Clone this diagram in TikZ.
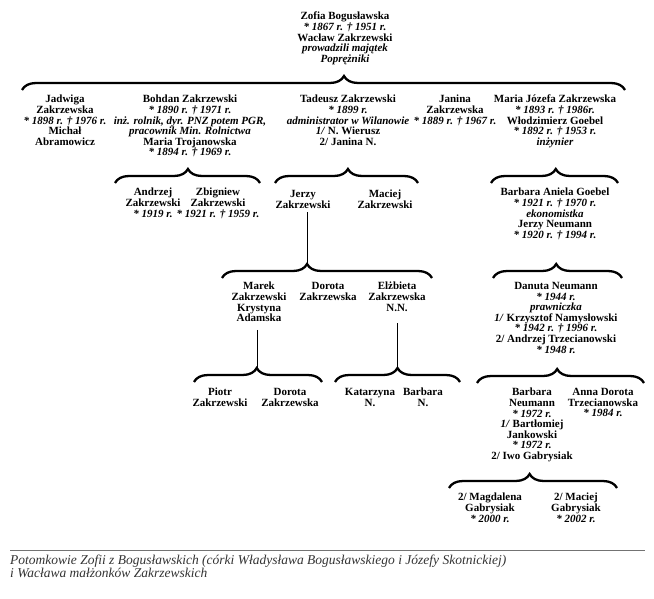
\documentclass[tikz,border=0pt]{standalone}
\usepackage{fontspec}
\setmainfont{Liberation Serif}
\usetikzlibrary{decorations.pathreplacing}

\newcommand{\famfont}{\fontsize{11}{10.6}\selectfont\bfseries}
\newcommand{\capfont}{\fontsize{13.5}{13}\selectfont\itshape}

\begin{document}
\begin{tikzpicture}[x=1pt, y=-1pt,
    person/.style={align=center, inner sep=0pt, anchor=north, font=\famfont, text=black},
    famly/.style={decorate, decoration={brace, amplitude=14pt, aspect=#1}, line width=2.3pt},
    famly/.default=0.5,
    link/.style={line width=0.8pt}]
\useasboundingbox (0,0) rectangle (654,599);

% parents
\node[person](zofia)at(345,12){Zofia Bogusławska\\\textit{* 1867 r. † 1951 r.}\\Wacław Zakrzewski\\\textit{prowadzili majątek}\\\textit{Poprężniki}};

% children
\node[person](jadwiga)at(65,95){Jadwiga\\Zakrzewska\\\textit{* 1898 r. † 1976 r.}\\Michał\\Abramowicz};
\node[person](bohdan)at(190,95){Bohdan Zakrzewski\\\textit{* 1890 r. † 1971 r.}\\\textit{inż. rolnik, dyr. PNZ potem PGR,}\\\textit{pracownik Min. Rolnictwa}\\Maria Trojanowska\\\textit{* 1894 r. † 1969 r.}};
\node[person](tadeusz)at(348,95){Tadeusz Zakrzewski\\\textit{* 1899 r.}\\\textit{administrator w Wilanowie}\\\textit{1/} N. Wierusz\\2/ Janina N.};
\node[person](janina)at(455,95){Janina\\Zakrzewska\\\textit{* 1889 r. † 1967 r.}};
\node[person](mariaj)at(555,95){Maria Józefa Zakrzewska\\\textit{* 1893 r. † 1986r.}\\Włodzimierz Goebel\\\textit{* 1892 r. † 1953 r.}\\\textit{inżynier}};

% grandchildren
\node[person](andrzej)at(153,188){Andrzej\\Zakrzewski\\\textit{* 1919 r.}};
\node[person](zbigniew)at(218,188){Zbigniew\\Zakrzewski\\\textit{* 1921 r. † 1959 r.}};
\node[person](jerzy)at(303,190){Jerzy\\Zakrzewski};
\node[person](maciej)at(385,190){Maciej\\Zakrzewski};
\node[person](barbaraa)at(555,188){Barbara Aniela Goebel\\\textit{* 1921 r. † 1970 r.}\\\textit{ekonomistka}\\Jerzy Neumann\\\textit{* 1920 r. † 1994 r.}};

% great-grandchildren
\node[person](marek)at(259,282){Marek\\Zakrzewski\\Krystyna\\Adamska};
\node[person](dorota)at(328,282){Dorota\\Zakrzewska};
\node[person](elzbieta)at(397,282){Elżbieta\\Zakrzewska\\N.N.};
\node[person](danuta)at(556,282){Danuta Neumann\\\textit{* 1944 r.}\\\textit{prawniczka}\\\textit{1/} Krzysztof Namysłowski\\\textit{* 1942 r. † 1996 r.}\\2/ Andrzej Trzecianowski\\\textit{* 1948 r.}};

\node[person](piotr)at(220,388){Piotr\\Zakrzewski};
\node[person](dorotaz)at(290,388){Dorota\\Zakrzewska};
\node[person](katarzyna)at(370,388){Katarzyna\\N.};
\node[person](barbaran)at(423,388){Barbara\\N.};
\node[person](barbaraneu)at(532,388){Barbara\\Neumann\\\textit{* 1972 r.}\\\textit{1/} Bartłomiej\\Jankowski\\\textit{* 1972 r.}\\2/ Iwo Gabrysiak};
\node[person](anna)at(603,388){Anna Dorota\\Trzecianowska\\\textit{* 1984 r.}};

\node[person](magdalena)at(490,493){2/ Magdalena\\Gabrysiak\\\textit{* 2000 r.}};
\node[person](maciejg)at(576,493){2/ Maciej\\Gabrysiak\\\textit{* 2002 r.}};

% brace ends and tips
\coordinate(b0l)at(22,90); \coordinate(b0r)at(625,90);
\coordinate(b1l)at(115,183); \coordinate(b1r)at(260,183);
\coordinate(b2l)at(275,183); \coordinate(b2r)at(418,183);
\coordinate(b3l)at(491,183); \coordinate(b3r)at(618,183);
\coordinate(b4l)at(222,278); \coordinate(b4r)at(432,278);
\coordinate(b5l)at(493,278); \coordinate(b5r)at(622,278);
\coordinate(b6l)at(194,382); \coordinate(b6r)at(322,382);
\coordinate(b7l)at(335,382); \coordinate(b7r)at(460,382);
\coordinate(b8l)at(477,383); \coordinate(b8r)at(644,383);
\coordinate(b9l)at(449,488); \coordinate(b9r)at(617,488);
\coordinate(t4)at(307,264);
\coordinate(t6)at(257,368);
\coordinate(t7)at(397,368);

\draw[famly=0.534](b0l)--(b0r);
\draw[famly=0.503](b1l)--(b1r);
\draw[famly=0.51](b2l)--(b2r);
\draw[famly=0.51](b3l)--(b3r);
\draw[famly=0.405](b4l)--(b4r);
\draw[famly=0.49](b5l)--(b5r);
\draw[famly=0.49](b6l)--(b6r);
\draw[famly=0.5](b7l)--(b7r);
\draw[famly=0.48](b8l)--(b8r);
\draw[famly=0.48](b9l)--(b9r);

% descent lines
\draw[link]([yshift=-4pt]t4 |- jerzy.south)--(t4);
\draw[link]([yshift=-8pt]t6 |- marek.south)--(t6);
\draw[link]([yshift=-12pt]t7 |- elzbieta.south)--(t7);

% caption
\draw[black!55, line width=0.8pt](10,550)--(645,550);
\node[anchor=north west, align=left, inner sep=0pt, font=\capfont, text=black!80](caption)
    at(10,555){Potomkowie Zofii z Bogusławskich (córki Władysława Bogusławskiego i Józefy Skotnickiej)\\i Wacława małżonków Zakrzewskich};
\end{tikzpicture}
\end{document}
